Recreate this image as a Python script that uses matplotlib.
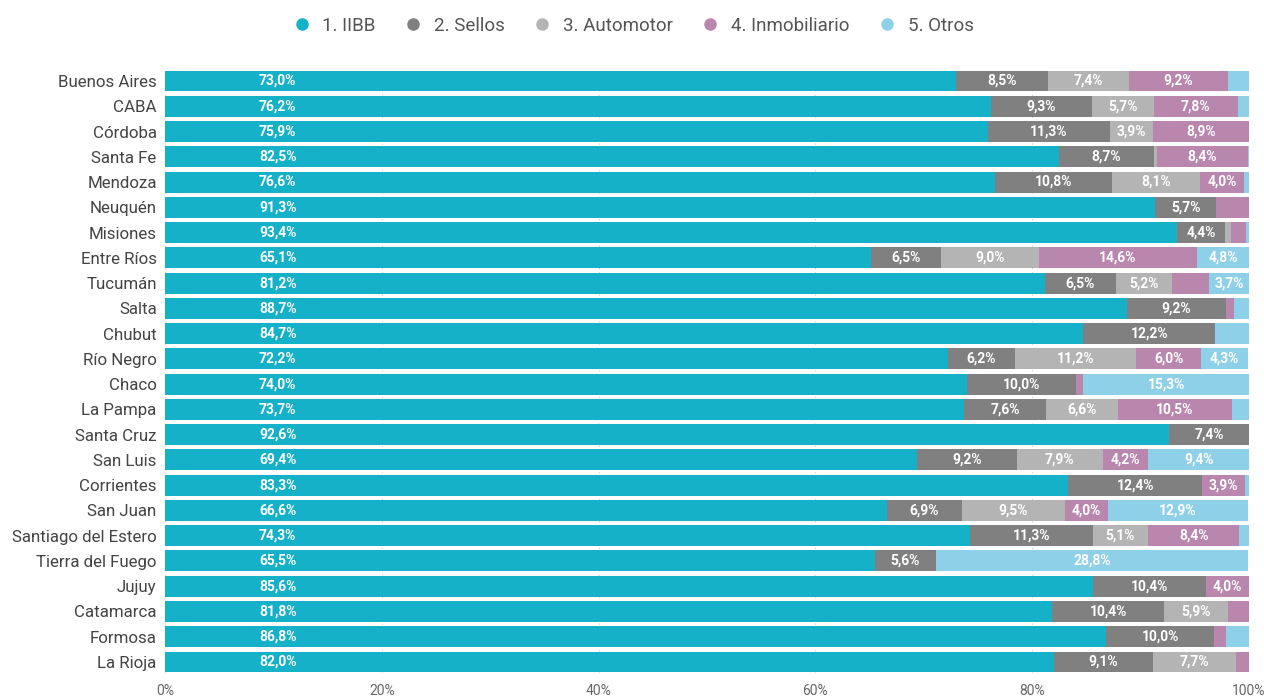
import matplotlib.pyplot as plt
from matplotlib.lines import Line2D
import numpy as np

provincias = ["Buenos Aires", "CABA", "Córdoba", "Santa Fe", "Mendoza", "Neuquén",
              "Misiones", "Entre Ríos", "Tucumán", "Salta", "Chubut", "Río Negro",
              "Chaco", "La Pampa", "Santa Cruz", "San Luis", "Corrientes", "San Juan",
              "Santiago del Estero", "Tierra del Fuego", "Jujuy", "Catamarca",
              "Formosa", "La Rioja"]

iibb = [73.0, 76.2, 75.9, 82.5, 76.6, 91.3, 93.4, 65.1, 81.2, 88.7, 84.7, 72.2,
        74.0, 73.7, 92.6, 69.4, 83.3, 66.6, 74.3, 65.5, 85.6, 81.8, 86.8, 82.0]
sellos = [8.5, 9.3, 11.3, 8.7, 10.8, 5.7, 4.4, 6.5, 6.5, 9.2, 12.2, 6.2,
          10.0, 7.6, 7.4, 9.2, 12.4, 6.9, 11.3, 5.6, 10.4, 10.4, 10.0, 9.1]
automotor = [7.4, 5.7, 3.9, 0.3, 8.1, 0.0, 0.5, 9.0, 5.2, 0.0, 0.0, 11.2,
             0.0, 6.6, 0.0, 7.9, 0.0, 9.5, 5.1, 0.0, 0.0, 5.9, 0.0, 7.7]
inmobiliario = [9.2, 7.8, 8.9, 8.4, 4.0, 3.0, 1.4, 14.6, 3.4, 0.7, 0.0, 6.0,
                0.7, 10.5, 0.0, 4.2, 3.9, 4.0, 8.4, 0.0, 4.0, 1.9, 1.1, 1.2]
otros = [1.9, 1.0, 0.0, 0.1, 0.5, 0.0, 0.3, 4.8, 3.7, 1.4, 3.1, 4.3,
         15.3, 1.6, 0.0, 9.4, 0.4, 12.9, 0.9, 28.8, 0.0, 0.0, 2.1, 0.0]

series = ["1. IIBB", "2. Sellos", "3. Automotor", "4. Inmobiliario", "5. Otros"]
colores = ["#14b1c8", "#808080", "#b4b4b4", "#b987ad", "#8ed0e8"]
xticks = [0, 20, 40, 60, 80, 100]

plt.rcParams['font.family'] = ['Roboto', 'DejaVu Sans']

fig = plt.figure(figsize=(12.64, 6.99), dpi=100)
ax = fig.add_axes([165 / 1264, 26 / 699, 1084 / 1264, 603 / 699])

y = np.arange(len(provincias))
datos = [iibb, sellos, automotor, inmobiliario, otros]
izq = np.zeros(len(provincias))

for k, vals in enumerate(datos):
    vals = np.array(vals)
    ax.barh(y, vals, left=izq, height=0.83, color=colores[k], zorder=2)
    for i, v in enumerate(vals):
        if v >= 3.5:
            xc = 10.4 if k == 0 else izq[i] + v / 2
            ax.text(xc, y[i], f"{v:.1f}%".replace(".", ","), ha="center", va="center",
                    color="white", fontsize=10, fontweight="bold", zorder=3)
    izq = izq + vals

for xt in xticks:
    ax.axvline(xt, color="#cccccc", linestyle=(0, (1, 3)), linewidth=0.8, zorder=1)

ax.set_xlim(0, 100)
ax.set_ylim(23.435, -0.435)
ax.set_yticks(y)
ax.set_yticklabels(provincias, fontsize=12.2, color="#444444")
ax.set_xticks(xticks)
ax.set_xticklabels([f"{t}%" for t in xticks], fontsize=10, color="#666666")
ax.tick_params(length=0, pad=6)
ax.tick_params(axis="x", pad=8)
for s in ax.spines.values():
    s.set_visible(False)

handles = [Line2D([0], [0], marker="o", linestyle="", markersize=8,
                  markerfacecolor=c, markeredgecolor=c) for c in colores]
fig.legend(handles, series, loc="upper center", bbox_to_anchor=(0.497, 1.0),
           ncol=5, frameon=False, fontsize=13.5, handletextpad=0.1,
           columnspacing=1.0, labelcolor="#555555")

fig.savefig("out.png", dpi=100)
